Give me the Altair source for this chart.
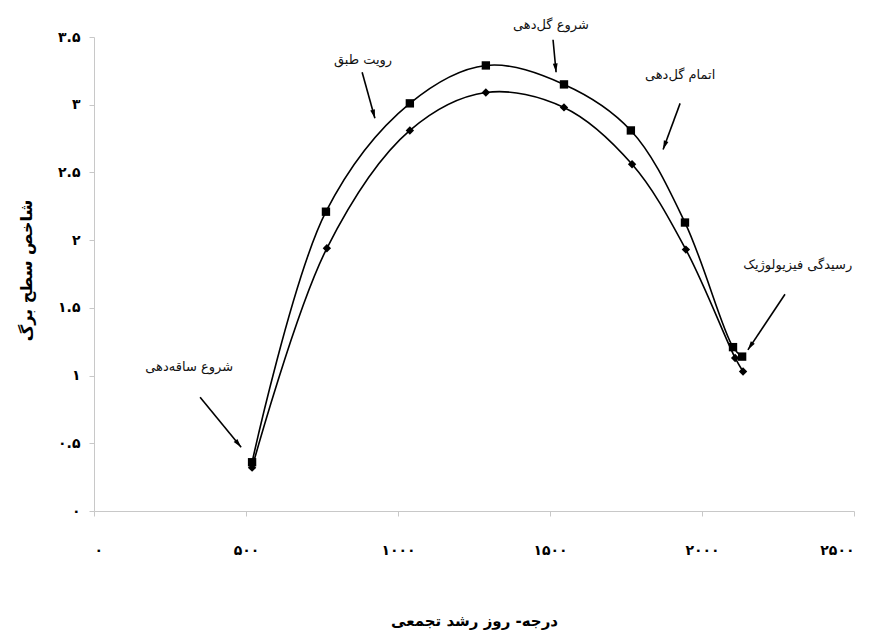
import math
import altair as alt
import pandas as pd

# Series
gdd_square = [520, 763, 1039, 1289, 1546, 1766, 1944, 2102, 2132]
lai_square = [0.36, 2.21, 3.01, 3.29, 3.15, 2.81, 2.13, 1.21, 1.14]
gdd_diamond = [520, 766, 1039, 1289, 1546, 1770, 1947, 2109, 2135]
lai_diamond = [0.32, 1.94, 2.81, 3.09, 2.98, 2.56, 1.93, 1.13, 1.03]

# Tick values and their Persian labels
x_ticks = [0, 500, 1000, 1500, 2000, 2500]
x_tick_labels = ["۰", "۵۰۰", "۱۰۰۰", "۱۵۰۰", "۲۰۰۰", "۲۵۰۰"]
y_ticks = [0, 0.5, 1, 1.5, 2, 2.5, 3, 3.5]
y_tick_labels = ["۰", "۰.۵", "۱", "۱.۵", "۲", "۲.۵", "۳", "۳.۵"]

# Annotations (data units)
notes = ["شروع ساقه‌دهی", "رویت طبق", "شروع گل‌دهی", "اتمام گل‌دهی", "رسیدگی فیزیولوژیک"]
note_x = [313, 885, 1503, 1928, 2315]
note_y = [1.06, 3.33, 3.59, 3.22, 1.82]
arrow_x0 = [349, 882, 1510, 1928, 2273]
arrow_y0 = [0.84, 3.24, 3.48, 3.01, 1.60]
arrow_x1 = [484, 924, 1520, 1872, 2151]
arrow_y1 = [0.47, 2.90, 3.24, 2.67, 1.19]

W, H = 760, 474
X_MAX, Y_MAX = 2500, 3.5
FONT = "DejaVu Sans"

df = pd.DataFrame(
    {
        "gdd": gdd_square + gdd_diamond,
        "lai": lai_square + lai_diamond,
        "series": ["a"] * len(gdd_square) + ["b"] * len(gdd_diamond),
    }
)

angles = []
for x0, y0, x1, y1 in zip(arrow_x0, arrow_y0, arrow_x1, arrow_y1):
    sx = (x1 - x0) * W / X_MAX
    sy = -(y1 - y0) * H / Y_MAX
    angles.append(math.degrees(math.atan2(sx, -sy)) % 360)

ann = pd.DataFrame(
    {
        "note": notes,
        "nx": note_x,
        "ny": note_y,
        "x0": arrow_x0,
        "y0": arrow_y0,
        "x1": arrow_x1,
        "y1": arrow_y1,
        "angle": angles,
    }
)

x_map = "{" + ",".join(f"'{v}':'{l}'" for v, l in zip(x_ticks, x_tick_labels)) + "}"
y_map = "{" + ",".join(f"'{v}':'{l}'" for v, l in zip(y_ticks, y_tick_labels)) + "}"

xs = alt.Scale(domain=[0, X_MAX], nice=False)
ys = alt.Scale(domain=[0, Y_MAX], nice=False)

x_axis = alt.Axis(
    values=x_ticks,
    labelExpr=f"{x_map}[datum.value + '']",
    grid=False,
    domainColor="#c8c8c8",
    tickColor="#c8c8c8",
    tickSize=5,
    labelPadding=27,
    labelFont=FONT,
    labelFontSize=14,
    labelFontWeight="bold",
    labelColor="#000",
    title="درجه- روز رشد تجمعی",
    titleFont=FONT,
    titleFontSize=15,
    titleFontWeight="bold",
    titleColor="#000",
    titleY=102,
)
y_axis = alt.Axis(
    values=y_ticks,
    labelExpr=f"{y_map}[datum.value + '']",
    grid=False,
    domainColor="#c8c8c8",
    tickColor="#c8c8c8",
    tickSize=5,
    labelPadding=9,
    labelFont=FONT,
    labelFontSize=14,
    labelFontWeight="bold",
    labelColor="#000",
    title="شاخص سطح برگ",
    titleFont=FONT,
    titleFontSize=16,
    titleFontWeight="bold",
    titleColor="#000",
    titleAngle=270,
    titleAlign="center",
    titleBaseline="bottom",
    titleX=-60,
    titleY=H / 2 - 4,
)

base = alt.Chart(df)

lines = base.mark_line(
    interpolate="catmull-rom", color="black", strokeWidth=1.6
).encode(
    x=alt.X("gdd:Q", scale=xs, axis=x_axis),
    y=alt.Y("lai:Q", scale=ys, axis=y_axis),
    detail="series:N",
)

points = base.mark_point(filled=True, opacity=1, color="black").encode(
    x=alt.X("gdd:Q", scale=xs),
    y=alt.Y("lai:Q", scale=ys),
    shape=alt.Shape(
        "series:N", scale=alt.Scale(domain=["a", "b"], range=["square", "diamond"]), legend=None
    ),
    size=alt.Size("series:N", scale=alt.Scale(domain=["a", "b"], range=[70, 70]), legend=None),
)

ab = alt.Chart(ann)

shafts = ab.mark_rule(color="black", strokeWidth=1.6).encode(
    x=alt.X("x0:Q", scale=xs),
    y=alt.Y("y0:Q", scale=ys),
    x2="x1:Q",
    y2="y1:Q",
)

heads = ab.mark_point(
    filled=True, opacity=1, color="black",
    shape="M0,0L0.6,2.2L-0.6,2.2Z", size=64,
).encode(
    x=alt.X("x1:Q", scale=xs),
    y=alt.Y("y1:Q", scale=ys),
    angle=alt.Angle("angle:Q", scale=None),
)

texts = ab.mark_text(font=FONT, fontSize=13, color="#111").encode(
    x=alt.X("nx:Q", scale=xs),
    y=alt.Y("ny:Q", scale=ys),
    text="note:N",
)

chart = (
    alt.layer(lines, points, shafts, heads, texts)
    .properties(
        width=W,
        height=H,
        background="white",
        autosize=alt.AutoSizeParams(type="none"),
        padding={"left": 86, "top": 29, "right": 14, "bottom": 119},
    )
    .configure_view(stroke="white", strokeOpacity=0, strokeWidth=0)
    .configure_axis(grid=False)
)

chart.save("out.html", embed_options={"renderer": "svg", "actions": False})
